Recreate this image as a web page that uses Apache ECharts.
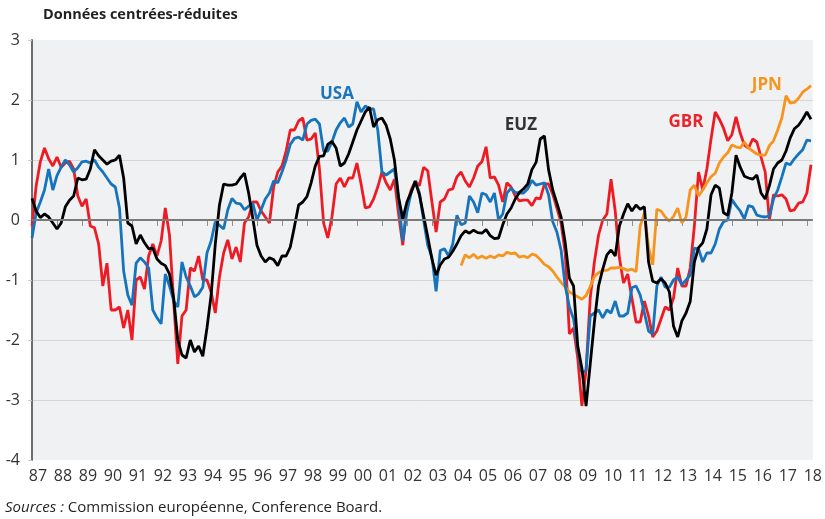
<!DOCTYPE html>
<html>
<head>
<meta charset="utf-8">
<script src="https://cdn.jsdelivr.net/npm/echarts@6/dist/echarts.min.js"></script>
<style>
  html, body { margin: 0; padding: 0; background: #fff; }
  #chart { width: 825px; height: 519px; }
</style>
</head>
<body>
<div id="chart"></div>
<script>
// two-monthly readings (Jan, Mar, May, Jul, Sep, Nov), starting Jan 1987
const START = 1987;
const STEP = 1 / 6;
const years = [];
for (let y = 1987; y <= 2018; y++) years.push(y);

const gbr = [
  -0.1, 0.57, 0.97, 1.2, 1.02, 0.9,
  1.05, 0.88, 0.95, 0.98, 0.85, 0.4,
  0.23, 0.35, -0.1, -0.13, -0.4, -1.1,
  -0.72, -1.5, -1.5, -1.45, -1.8, -1.5,
  -2.0, -1.0, -0.95, -1.15, -0.6, -0.4,
  -0.6, -0.35, 0.2, -0.25, -1.35, -2.4,
  -1.6, -1.5, -0.8, -0.85, -0.6, -1.0,
  -1.0, -1.2, -1.55, -0.95, -0.55, -0.33,
  -0.65, -0.45, -0.7, -0.05, 0.05, 0.3,
  0.3, 0.15, 0.05, -0.05, 0.55, 0.8,
  0.9, 1.15, 1.5, 1.5, 1.65, 1.7,
  1.33, 1.35, 1.45, 0.85, -0.05, -0.3,
  0.05, 0.6, 0.7, 0.55, 0.7, 0.7,
  0.95, 0.6, 0.2, 0.22, 0.35, 0.55,
  0.8, 0.62, 0.5, 0.68, 0.1, -0.42,
  0.25, 0.5, 0.65, 0.57, 0.88, 0.82,
  0.3, -0.2, 0.3, 0.35, 0.5, 0.52,
  0.72, 0.8, 0.65, 0.55, 0.7, 0.9,
  0.97, 1.22, 0.7, 0.72, 0.58, 0.3,
  0.62, 0.55, 0.4, 0.32, 0.33, 0.33,
  0.24, 0.37, 0.35, 0.6, 0.6, 0.43,
  0.2, -0.05, -0.55, -1.9, -1.8, -2.3,
  -3.1, -2.5, -1.3, -0.7, -0.25, 0.0,
  0.1, 0.68, 0.15, -0.63, -1.05, -0.9,
  -1.3, -1.7, -1.7, -1.35, -1.6, -1.95,
  -1.85, -1.65, -1.45, -1.5, -1.3, -0.8,
  -1.1, -1.1, -0.8, -0.1, 0.8, 0.5,
  0.85, 1.35, 1.8, 1.68, 1.53, 1.32,
  1.42, 1.72, 1.45, 1.25, 1.2, 1.35,
  1.3, 1.05, 0.8, 0.0, 0.42, 0.4,
  0.42, 0.35, 0.15, 0.17, 0.28, 0.3,
  0.45, 0.92
];

const usa = [
  -0.3, 0.12, 0.3, 0.5, 0.85, 0.5,
  0.74, 0.88, 1.0, 0.92, 0.8, 0.87,
  0.97, 0.98, 0.95, 1.0, 0.88, 0.8,
  0.7, 0.6, 0.55, 0.2, -0.85, -1.25,
  -1.42, -0.72, -0.63, -0.7, -0.8, -1.5,
  -1.63, -1.73, -0.9, -1.1, -1.35, -1.45,
  -0.7, -0.95, -1.1, -1.28, -1.23, -1.12,
  -0.55, -0.35, -0.03, -0.09, -0.15, 0.17,
  0.36, 0.28, 0.27, 0.17, 0.23, 0.28,
  0.0, 0.17, 0.35, 0.45, 0.65, 0.62,
  0.8, 1.0, 1.26, 1.36, 1.38, 1.33,
  1.6, 1.66, 1.68, 1.6, 1.15, 1.15,
  1.3, 1.5, 1.62, 1.7, 1.55, 1.6,
  1.97, 1.8, 1.9, 1.85, 1.85, 1.5,
  0.8, 0.75, 0.8, 0.85, 0.35, -0.35,
  0.14, 0.45, 0.65, 0.45, 0.0, -0.42,
  -0.62, -1.19, -0.51, -0.48, -0.6, -0.4,
  0.08, -0.08, -0.05, 0.4, 0.3, 0.12,
  0.45, 0.42, 0.3, 0.45, 0.0, 0.1,
  0.45, 0.53, 0.46, 0.45, 0.45, 0.52,
  0.66, 0.58, 0.6, 0.62, 0.42, -0.03,
  -0.2, -0.5, -1.1, -1.45, -1.65, -2.15,
  -2.55, -2.5, -1.6, -1.55, -1.5, -1.63,
  -1.5, -1.55, -1.35, -1.6, -1.6, -1.55,
  -1.13, -1.1, -1.25, -1.55, -1.85, -1.9,
  -1.1, -0.95, -1.12, -1.12, -1.0, -0.95,
  -1.08, -1.0, -0.92, -0.47, -0.48, -0.7,
  -0.55, -0.55, -0.4, -0.15, -0.03, 0.0,
  0.34, 0.24, 0.15, 0.02, 0.24, 0.22,
  0.08, 0.06, 0.05, 0.07, 0.35, 0.5,
  0.72, 0.95, 0.92, 1.02, 1.1, 1.17,
  1.33, 1.32
];

const euz = [
  0.36, 0.15, 0.04, 0.1, 0.05, -0.05,
  -0.15, -0.05, 0.22, 0.33, 0.4, 0.7,
  0.67, 0.68, 0.85, 1.17, 1.07, 1.0,
  0.93, 0.98, 1.0, 1.08, 0.7, -0.05,
  -0.1, -0.4, -0.25, -0.38, -0.48, -0.47,
  -0.65, -0.72, -0.76, -0.9, -1.3, -2.0,
  -2.25, -2.3, -2.0, -2.2, -2.1, -2.27,
  -1.8, -1.25, -0.4, 0.25, 0.6, 0.58,
  0.58, 0.6, 0.7, 0.78, 0.45, 0.03,
  -0.42, -0.6, -0.7, -0.63, -0.66, -0.76,
  -0.6, -0.6, -0.45, -0.11, 0.25, 0.3,
  0.39, 0.62, 0.9, 1.06, 1.07, 1.26,
  1.31, 1.2, 0.9, 0.95, 1.1, 1.3,
  1.5, 1.65, 1.8, 1.88, 1.55, 1.67,
  1.7, 1.58, 1.35, 1.0, 0.38, 0.02,
  0.3, 0.46, 0.64, 0.42, 0.07, -0.28,
  -0.65, -0.92, -0.75, -0.65, -0.62, -0.52,
  -0.4, -0.26, -0.18, -0.22, -0.17, -0.21,
  -0.22, -0.16, -0.26, -0.31, -0.3, -0.08,
  0.1, 0.2, 0.35, 0.46, 0.52, 0.6,
  0.84, 0.96, 1.35, 1.4, 0.84, 0.5,
  0.28, 0.05, -0.38, -0.97, -1.1, -2.1,
  -2.47, -3.1, -2.4, -1.7, -1.1, -0.82,
  -0.58, -0.5, -0.6, -0.1, 0.1, 0.27,
  0.15, 0.25, 0.18, 0.22, -0.7, -1.02,
  -1.05, -0.98, -1.05, -1.2, -1.77, -1.95,
  -1.68, -1.55, -1.36, -0.7, -0.46, -0.38,
  -0.15, 0.42, 0.58, 0.53, 0.12, 0.08,
  0.45, 1.08, 0.88, 0.73, 0.7, 0.68,
  0.75, 0.45, 0.35, 0.57, 0.85, 0.95,
  1.0, 1.15, 1.37, 1.52, 1.58, 1.68,
  1.8, 1.68
];

// Japan starts in March 2004
const jpnStart = 103;
const jpn = [
  -0.76, -0.58, -0.63, -0.57, -0.64,
  -0.6, -0.64, -0.6, -0.63, -0.58, -0.6,
  -0.54, -0.56, -0.55, -0.62, -0.6, -0.63,
  -0.57, -0.59, -0.66, -0.74, -0.78, -0.85,
  -0.95, -1.04, -1.12, -1.2, -1.24, -1.28,
  -1.32, -1.26, -1.11, -0.94, -0.88, -0.84,
  -0.84, -0.8, -0.8, -0.79, -0.81, -0.84,
  -0.82, -0.86, -0.1, 0.12, -0.45, -0.75,
  0.18, 0.15, 0.05, -0.02, 0.06, 0.2,
  -0.05, 0.05, 0.5, 0.58, 0.4, 0.5,
  0.62, 0.72, 0.78, 0.95, 1.05, 1.12,
  1.25, 1.22, 1.2, 1.3, 1.2, 1.15,
  1.1, 1.08, 1.08, 1.24, 1.32, 1.5,
  1.7, 2.07, 1.95, 1.96, 2.03, 2.13,
  2.18, 2.24
];

const toPoints = (vals, offset) => vals.map((v, i) => [START + (offset + i) * STEP, v]);

const font = 'Open Sans';

const tag = (text, x, y, color) => ({
  symbol: 'rect',
  symbolSize: 1,
  data: [{ coord: [x, y], itemStyle: { color: 'rgba(0,0,0,0)' } }],
  label: {
    show: true, position: 'inside', formatter: text,
    color: color, fontFamily: font, fontWeight: 'bold', fontSize: 17
  },
  silent: true
});

const line = (name, vals, offset, color, label) => ({
  name: name,
  type: 'line',
  data: toPoints(vals, offset),
  showSymbol: false,
  symbol: 'none',
  lineStyle: { color: color, width: 2.8 },
  itemStyle: { color: color },
  markPoint: label,
  animation: false
});

let mychart = echarts.init(document.getElementById('chart'));

let option = {
  backgroundColor: '#fff',
  title: {
    text: 'Données centrées-réduites',
    left: 43,
    top: 7,
    padding: 0,
    textStyle: { fontFamily: font, fontSize: 14.5, fontWeight: 'bold', color: '#231f20' }
  },
  grid: {
    left: 32, right: 12, top: 40, bottom: 59,
    show: true, backgroundColor: '#f0f1f3', borderWidth: 0
  },
  xAxis: {
    type: 'value',
    min: 1987,
    max: 2018.24,
    interval: 1,
    axisLine: { show: false },
    axisTick: { show: true, length: 6, lineStyle: { color: '#8c8c8c' }, customValues: years },
    axisLabel: {
      customValues: years,
      formatter: v => String(Math.round(v)).slice(2),
      fontFamily: font, fontSize: 16, color: '#333',
      margin: 8,
      padding: [0, 0, 0, 12]
    },
    splitLine: { show: false }
  },
  yAxis: {
    type: 'value',
    min: -4,
    max: 3,
    interval: 1,
    axisLine: { show: true, lineStyle: { color: '#6d6d6d', width: 2 } },
    axisTick: { show: true, length: 4, lineStyle: { color: '#c8c8c8' } },
    axisLabel: { fontFamily: font, fontSize: 16, color: '#333', margin: 12 },
    splitLine: {
      show: true,
      lineStyle: {
        color: ['rgba(0,0,0,0)', '#d6d6d6', '#d6d6d6', '#d6d6d6', '#d6d6d6', '#d6d6d6', '#d6d6d6', 'rgba(0,0,0,0)'],
        width: 1
      }
    }
  },
  series: [
    {
      type: 'line',
      data: [],
      z: 1,
      silent: true,
      markLine: {
        symbol: 'none',
        silent: true,
        label: { show: false },
        lineStyle: { color: '#7a7a7a', width: 2, type: 'solid' },
        data: [{ yAxis: 0 }]
      }
    },
    line('GBR', gbr, 0, '#ed1c24', tag('GBR', 2013.16, 1.63, '#e8252d')),
    line('JPN', jpn, jpnStart, '#f7941d', tag('JPN', 2016.4, 2.25, '#f7941d')),
    line('USA', usa, 0, '#1574bb', tag('USA', 1999.2, 2.1, '#1b75bc')),
    line('EUZ', euz, 0, '#000000', tag('EUZ', 2006.56, 1.58, '#333333'))
  ],
  graphic: [
    {
      type: 'text',
      left: 5,
      top: 500,
      style: {
        text: '{i|Sources :} Commission européenne, Conference Board.',
        fontFamily: font,
        fontSize: 15,
        fill: '#231f20',
        rich: { i: { fontStyle: 'italic', fontFamily: font, fontSize: 15, fill: '#231f20' } }
      }
    }
  ]
};

mychart.setOption(option);
</script>
</body>
</html>
